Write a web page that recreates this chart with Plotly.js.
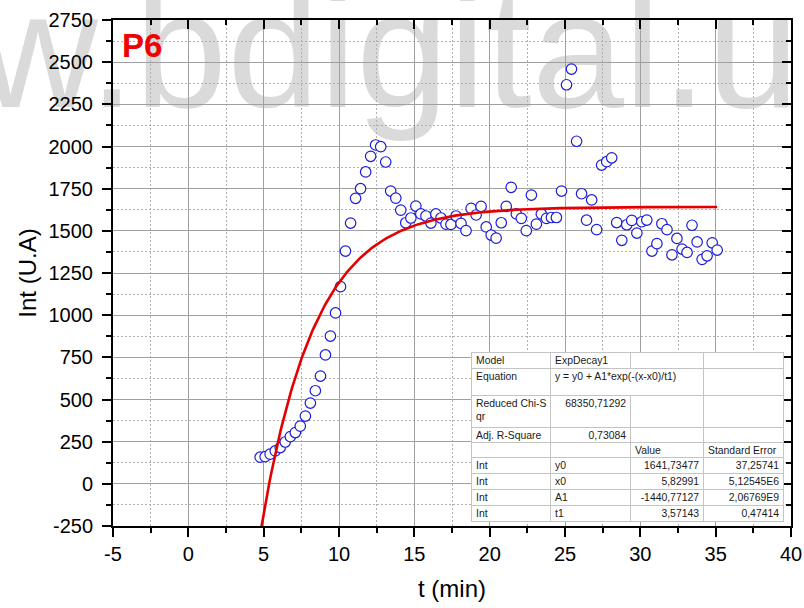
<!DOCTYPE html>
<html>
<head>
<meta charset="utf-8">
<script src="https://cdn.plot.ly/plotly-3.0.1.min.js"></script>
<style>
  body { margin: 0; background: #fff; }
  #wrap { position: relative; width: 804px; height: 608px; overflow: hidden; background: #fff; }
  #wm { position: absolute; left: 0; top: 0; }
  #plot { position: absolute; left: 0; top: 0; width: 804px; height: 608px; }
  #tbl { position: absolute; left: 471px; top: 352px; }
  #tbl table { border-collapse: collapse; table-layout: fixed; width: 312px; background: #fff;
    font-family: "Liberation Sans", Arial, sans-serif; font-size: 10.4px; color: #1a1a1a;
    border: 1px solid #9a9a9a; }
  #tbl td { border: 1px solid #c4c4c4; padding: 1px 4px 0 4px; vertical-align: top; line-height: 13px;
    white-space: nowrap; overflow: visible; }
  #tbl td.r { text-align: right; }
</style>
</head>
<body>
<div id="wrap">
  <svg id="wm" width="804" height="608">
    <text id="wmText" x="-22" y="107" font-family="Liberation Sans, Arial, sans-serif" font-size="166" fill="#dadada"></text>
  </svg>
  <div id="plot"></div>
  <div id="tbl"></div>
</div>
<script>
// ---- data ----
const watermark = "w.bdigital.ula.ve";
const panelLabel = "P6";
const xTitle = "t (min)";
const yTitle = "Int (U.A)";

const timeMin = [4.77,5.10,5.43,5.77,6.10,6.43,6.77,7.10,7.43,7.77,8.10,8.43,8.77,9.10,9.43,9.77,
  10.10,10.43,10.77,11.10,11.43,11.77,12.10,12.43,12.77,13.10,13.43,13.77,14.10,14.43,14.77,
  15.10,15.43,15.77,16.10,16.43,16.77,17.10,17.43,17.77,18.10,18.43,18.77,19.10,19.43,19.77,
  20.10,20.43,20.77,21.10,21.43,21.77,22.10,22.43,22.77,23.10,23.43,23.77,24.10,24.43,24.77,
  25.10,25.43,25.77,26.10,26.43,26.77,27.10,27.43,27.77,28.10,28.43,28.77,29.10,29.43,29.77,
  30.10,30.43,30.77,31.10,31.43,31.77,32.10,32.43,32.77,33.10,33.43,33.77,34.10,34.43,34.77,35.10];

const intensity = [158,161,176,195,215,248,280,304,342,402,
  479,552,639,764,876,1013,1169,1380,1546,1693,
  1750,1849,1942,2009,1999,1908,1736,1694,1623,1548,
  1576,1647,1600,1588,1546,1600,1576,1540,1538,1588,
  1544,1501,1633,1594,1645,1523,1475,1457,1548,1645,
  1758,1600,1574,1501,1712,1540,1600,1574,1579,1579,
  1736,2366,2459,2031,1720,1563,1683,1507,1890,1910,
  1933,1549,1444,1536,1562,1487,1554,1564,1380,1424,
  1542,1507,1358,1455,1392,1372,1533,1434,1331,1352,
  1429,1386];

// ExpDecay1 fit parameters (from the table in the reference)
const fitY0 = 1641.73477;
const fitX0 = 5.82991;
const fitA1 = -1440.77127;
const fitT1 = 3.57143;

const xTickVals = [-5,0,5,10,15,20,25,30,35,40];
const xTickText = ["-5","0","5","10","15","20","25","30","35","40"];
const yTickVals = [-250,0,250,500,750,1000,1250,1500,1750,2000,2250,2500,2750];
const yTickText = ["-250","0","250","500","750","1000","1250","1500","1750","2000","2250","2500","2750"];

const tableTop = [
  ["Model", "ExpDecay1"],
  ["Equation", "y = y0 + A1*exp(-(x-x0)/t1)"],
  ["Reduced Chi-S<br>qr", "68350,71292"],
  ["Adj. R-Square", "0,73084"]
];
const tableHeader = ["", "", "Value", "Standard Error"];
const paramRowLabel = ["Int","Int","Int","Int"];
const paramNames = ["y0","x0","A1","t1"];
const paramValues = ["1641,73477","5,82991","-1440,77127","3,57143"];
const paramErrors = ["37,25741","5,12545E6","2,06769E9","0,47414"];

// ---- watermark ----
document.getElementById('wmText').textContent = watermark;

// ---- fit line evaluated over the data range ----
const tStart = timeMin[0], tEnd = timeMin[timeMin.length-1];
const fitX = [], fitY = [];
for (let i = 0; i <= 300; i++) {
  const t = tStart + (tEnd - tStart) * i / 300;
  fitX.push(t);
  fitY.push(fitY0 + fitA1 * Math.exp(-(t - fitX0) / fitT1));
}

const FONT = '"Liberation Sans", Arial, sans-serif';

const traces = [
  {
    x: timeMin, y: intensity, type: 'scatter', mode: 'markers',
    marker: { symbol: 'circle', size: 10.5, color: 'rgb(253,253,242)',
              line: { color: 'rgb(28,28,225)', width: 1.2 } },
    showlegend: false, hoverinfo: 'skip'
  },
  {
    x: fitX, y: fitY, type: 'scatter', mode: 'lines',
    line: { color: 'rgb(228,0,0)', width: 2.6 },
    showlegend: false, hoverinfo: 'skip'
  },
  { x: [], y: [], xaxis: 'x2', yaxis: 'y2', type: 'scatter', mode: 'markers', showlegend: false, hoverinfo: 'skip' }
];

const L = 113, R = 13, T = 20, B = 82;
const plotW = 804 - L - R, plotH = 608 - T - B;

const commonAxis = {
  showline: true, linecolor: '#000', linewidth: 2,
  ticks: 'outside', ticklen: 9, tickwidth: 2, tickcolor: '#000',
  tickfont: { family: FONT, size: 20, color: '#000' },
  showgrid: true, gridcolor: '#a0a0a0', gridwidth: 1,
  zeroline: false, mirror: true, tickmode: 'array'
};

const layout = {
  width: 804, height: 608,
  margin: { l: L, r: R, t: T, b: B, pad: 0 },
  paper_bgcolor: 'rgba(0,0,0,0)', plot_bgcolor: 'rgba(0,0,0,0)',
  showlegend: false,
  xaxis: Object.assign({}, commonAxis, {
    range: [-5, 40], tickvals: xTickVals, ticktext: xTickText,
    ticklabelstandoff: 0,
    minor: { tickmode: 'linear', tick0: -5, dtick: 2.5, ticks: 'outside', ticklen: 5, tickwidth: 2, tickcolor: '#000',
             showgrid: true, gridcolor: '#b0b0b0', griddash: '2px,2px', gridwidth: 1 },
    title: { text: xTitle, font: { family: FONT, size: 24, color: '#000' }, standoff: 16 }
  }),
  yaxis: Object.assign({}, commonAxis, {
    range: [-250, 2750], tickvals: yTickVals, ticktext: yTickText,
    ticklabelstandoff: 5,
    minor: { tickmode: 'linear', tick0: -250, dtick: 125, ticks: 'outside', ticklen: 5, tickwidth: 2, tickcolor: '#000',
             showgrid: true, gridcolor: '#b0b0b0', griddash: '2px,2px', gridwidth: 1 },
    title: { text: yTitle, font: { family: FONT, size: 24, color: '#000' }, standoff: 5 }
  }),
  xaxis2: {
    overlaying: 'x', side: 'top', anchor: 'y', range: [-5, 40],
    tickmode: 'array', tickvals: xTickVals, showticklabels: false,
    ticks: 'inside', ticklen: 9, tickwidth: 2, tickcolor: '#000',
    showline: false, showgrid: false, zeroline: false,
    minor: { tickmode: 'linear', tick0: -5, dtick: 2.5, ticks: 'inside', ticklen: 5, tickwidth: 2, tickcolor: '#000', showgrid: false }
  },
  yaxis2: {
    overlaying: 'y', side: 'right', anchor: 'x', range: [-250, 2750],
    tickmode: 'array', tickvals: yTickVals, showticklabels: false,
    ticks: 'inside', ticklen: 9, tickwidth: 2, tickcolor: '#000',
    showline: false, showgrid: false, zeroline: false,
    minor: { tickmode: 'linear', tick0: -250, dtick: 125, ticks: 'inside', ticklen: 5, tickwidth: 2, tickcolor: '#000', showgrid: false }
  },
  annotations: [
    { text: '<b>' + panelLabel + '</b>', xref: 'paper', yref: 'paper',
      x: (120 - L) / plotW, y: (608 - B - 25) / plotH, xanchor: 'left', yanchor: 'top',
      showarrow: false, font: { family: FONT, size: 33, color: 'rgb(240,0,0)' } }
  ]
};

Plotly.newPlot('plot', traces, layout, { displayModeBar: false, staticPlot: true });

// ---- fit results table (HTML overlay) ----
(function buildTable() {
  const rowH = [16, 27, 32, 15, 15, 16, 16, 16, 16];
  let html = '<table><colgroup><col style="width:79px"><col style="width:80px"><col style="width:73px"><col style="width:80px"></colgroup>';
  tableTop.forEach((row, i) => {
    const h = rowH[i];
    if (i === 0) {
      html += `<tr style="height:${h}px"><td>${row[0]}</td><td>${row[1]}</td><td></td><td></td></tr>`;
    } else if (i === 1) {
      html += `<tr style="height:${h}px"><td>${row[0]}</td><td colspan="2">${row[1]}</td><td></td></tr>`;
    } else {
      html += `<tr style="height:${h}px"><td>${row[0]}</td><td class="r">${row[1]}</td><td></td><td></td></tr>`;
    }
  });
  html += `<tr style="height:${rowH[4]}px">` + tableHeader.map(c => `<td>${c}</td>`).join('') + '</tr>';
  paramNames.forEach((p, i) => {
    html += `<tr style="height:${rowH[5 + i]}px"><td>${paramRowLabel[i]}</td><td>${p}</td><td class="r">${paramValues[i]}</td><td class="r">${paramErrors[i]}</td></tr>`;
  });
  html += '</table>';
  document.getElementById('tbl').innerHTML = html;
})();
</script>
</body>
</html>
